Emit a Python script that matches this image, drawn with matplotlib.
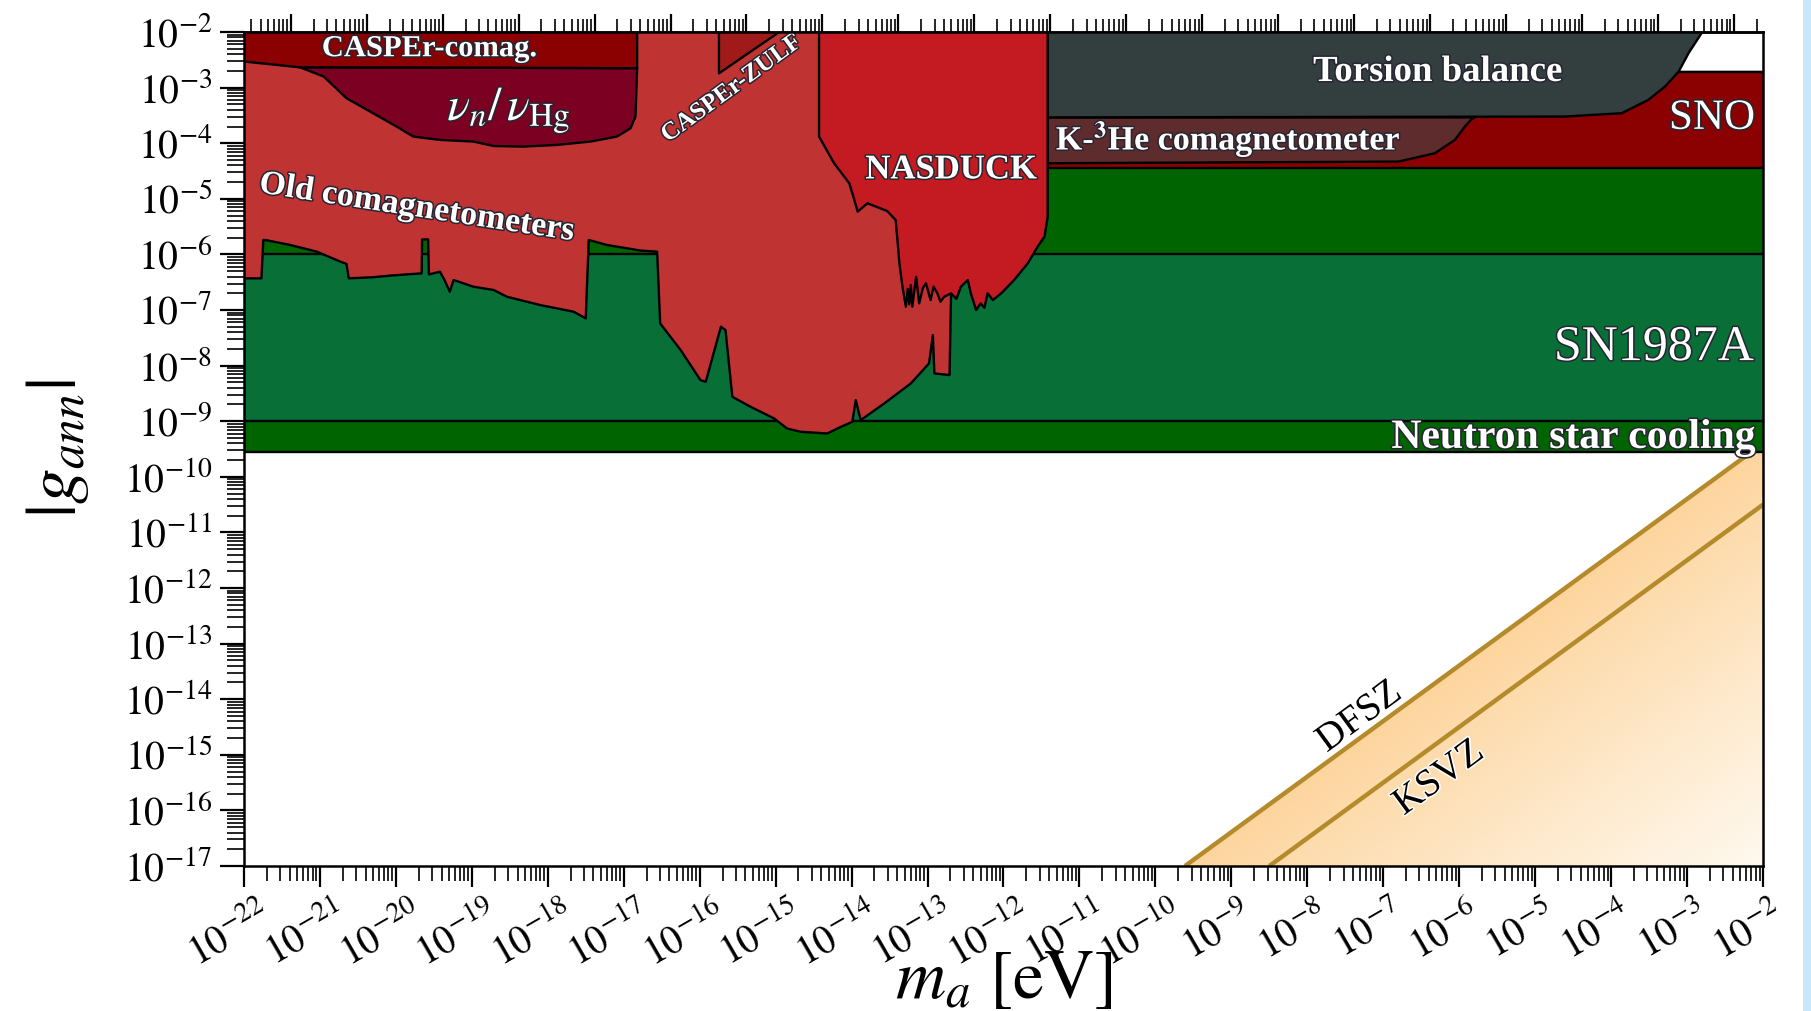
import numpy as np
import matplotlib
matplotlib.use("Agg")
import matplotlib.pyplot as plt
import matplotlib.patheffects as pe
import matplotlib.transforms as mtransforms
from matplotlib.patches import Polygon, Rectangle
from matplotlib.ticker import LogLocator, NullFormatter, FuncFormatter

plt.rcParams['font.family'] = ['Liberation Serif', 'DejaVu Serif']
plt.rcParams['mathtext.fontset'] = 'stix'

# plot range
m_min, m_max = 1e-22, 1e-2     # eV
g_min, g_max = 1e-17, 1e-2
EV_TO_HZ = 2.418e14            # top axis: frequency

# exclusion regions, stored as log10(m_a/eV) and log10|g_ann|
ns_logm = [-23, -1, -1, -23]
ns_logg = [-9.553, -9.553, -2.71, -2.71]

sn_logm = [-23, -1, -1, -23]
sn_logg = [-9.0, -9.0, -6.0, -6.0]

sno_logm = [-11.42, -1, -1, -11.42]
sno_logg = [-4.45, -4.45, -2.71, -2.71]

k3he_logm = [-11.42, -5.80, -5.84, -5.925, -6.057, -6.32, -6.80, -11.42]
k3he_logg = [-3.535, -3.535, -3.57, -3.70, -3.94, -4.18, -4.33, -4.36]

torsion_logm = [-11.42, -11.42, -4.61, -3.86, -3.51, -3.29, -3.11, -2.98, -2.80, -2.70]
torsion_logg = [-1.5, -3.535, -3.52, -3.46, -3.22, -2.98, -2.71, -2.38, -2.0, -1.5]

old_comag_logm = [-22.5, -21.77, -21.745, -21.72, -21.39, -21.04, -20.73, -20.65, -20.62,
                  -20.30, -20.07, -19.66, -19.655, -19.575, -19.565, -19.42, -19.36, -19.29,
                  -19.24, -18.98, -18.71, -18.54, -18.10, -17.66, -17.50, -17.46, -17.22,
                  -16.78, -16.56, -16.52, -16.47, -16.25, -15.99, -15.92, -15.72, -15.66,
                  -15.57, -15.33, -15.02, -14.85, -14.67, -14.32, -14.14, -13.99, -13.945,
                  -13.88, -13.57, -13.22, -12.98, -12.93, -12.91, -12.71, -12.69, -12.69, -22.5]
old_comag_logg = [-6.43, -6.43, -5.74, -5.74, -5.83, -5.95, -6.13, -6.17, -6.43,
                  -6.41, -6.38, -6.34, -5.73, -5.73, -6.36, -6.31, -6.46, -6.67,
                  -6.46, -6.58, -6.64, -6.76, -6.91, -7.03, -7.15, -5.74, -5.83,
                  -5.93, -5.95, -7.24, -7.33, -7.72, -8.26, -8.29, -7.30, -7.36,
                  -8.56, -8.74, -8.95, -9.13, -9.19, -9.22, -9.10, -9.01, -8.62,
                  -8.98, -8.68, -8.32, -7.96, -7.45, -8.14, -8.17, -6.70, -1.5, -1.5]

nu_hg_logm = [-21.26, -20.95, -20.65, -20.30, -19.99, -19.77, -19.42, -18.98, -18.71,
              -18.32, -17.88, -17.44, -17.09, -16.91, -16.845, -16.823]
nu_hg_logg = [-2.635, -2.80, -3.19, -3.46, -3.70, -3.88, -3.94, -3.97, -4.05,
              -4.06, -4.03, -3.97, -3.88, -3.73, -3.52, -2.65]

casper_comag_logm = [-22.5, -22.0, -21.26, -19.0, -16.823, -16.823, -22.5]
casper_comag_logg = [-2.53, -2.53, -2.635, -2.64, -2.65, -1.5, -1.5]

casper_zulf_logm = [-15.746, -15.746, -14.42]
casper_zulf_logg = [-1.5, -2.743, -1.5]

nasduck_logm = [-14.428, -14.428, -14.23, -14.03, -13.97, -13.92, -13.79, -13.53, -13.42, -13.40,
                -13.37, -13.33, -13.285, -13.26, -13.24, -13.22, -13.20, -13.15, -13.11, -13.06,
                -13.02, -12.96, -12.92, -12.87, -12.83, -12.78, -12.69, -12.62, -12.56, -12.47,
                -12.43, -12.36, -12.30, -12.25, -12.21, -12.14, -12.03,
                -11.86, -11.68, -11.55, -11.46, -11.418, -11.418]
nasduck_logg = [-1.5, -3.88, -4.36, -4.72, -4.99, -5.23, -5.08, -5.22, -5.38, -5.68,
                -6.16, -6.58, -6.94, -6.62, -6.90, -6.55, -6.94, -6.40, -6.88, -6.60,
                -6.52, -6.82, -6.58, -6.70, -6.85, -6.76, -6.70, -6.80, -6.58, -6.46,
                -6.70, -7.00, -6.88, -6.96, -6.70, -6.82, -6.70,
                -6.46, -6.16, -5.86, -5.68, -5.32, -1.5]

# QCD axion lines (endpoints)
dfsz_logm = [-9.61, -2.0]
dfsz_logg = [-17.0, -9.40]
ksvz_logm = [-8.50, -2.0]
ksvz_logg = [-17.0, -10.50]


def lin(v):
    return 10.0 ** np.asarray(v, dtype=float)


regions = [
    (ns_logm, ns_logg, '#006400', 3),
    (sn_logm, sn_logg, '#086f37', 4),
    (sno_logm, sno_logg, '#8b0000', 5),
    (k3he_logm, k3he_logg, '#5e2c2c', 6),
    (torsion_logm, torsion_logg, '#333e3e', 7),
    (old_comag_logm, old_comag_logg, '#c03333', 8),
    (nu_hg_logm, nu_hg_logg, '#7b0022', 9),
    (casper_comag_logm, casper_comag_logg, '#8b0000', 10),
    (casper_zulf_logm, casper_zulf_logg, '#a11a1a', 10),
    (nasduck_logm, nasduck_logg, '#c41a22', 11),
]

fig = plt.figure(figsize=(18.11, 10.11), dpi=100)
ax = fig.add_axes([0.1347, 0.1434, 0.8388, 0.8249])
ax.set_xscale('log')
ax.set_yscale('log')
ax.set_autoscale_on(False)
ax.set_xlim(m_min, m_max)
ax.set_ylim(g_min, g_max)

# QCD band with a soft gradient below the DFSZ line
lx0, lx1 = np.log10(m_min), np.log10(m_max)
ly0, ly1 = np.log10(g_min), np.log10(g_max)
XA, YA = np.meshgrid(np.linspace(0, 1, 700), np.linspace(0, 1, 450))
LM = lx0 + XA * (lx1 - lx0)
LG = ly0 + YA * (ly1 - ly0)
shift = dfsz_logm[0] - dfsz_logg[0]
t = np.clip((LM - LG - shift) / (lx1 - ly0 - shift), 0, 1) ** 0.9
c0 = np.array([253, 212, 156]) / 255
c1 = np.array([255, 249, 239]) / 255
img = c0 + (c1 - c0) * t[..., None]
band = Polygon([(lin(dfsz_logm[0]), lin(dfsz_logg[0])), (lin(dfsz_logm[1]), lin(dfsz_logg[1])),
                (m_max, g_min)], closed=True, transform=ax.transData)
im = ax.imshow(img, extent=(0, 1, 0, 1), transform=ax.transAxes, origin='lower',
               aspect='auto', interpolation='bilinear', zorder=1)
im.set_clip_path(band)

for lm, lg in [(dfsz_logm, dfsz_logg), (ksvz_logm, ksvz_logg)]:
    ax.plot(lin(lm), lin(lg), color='#b58a2a', lw=3.2, zorder=2, solid_capstyle='butt')

for lm, lg, col, z in regions:
    ax.fill(lin(lm), lin(lg), facecolor=col, edgecolor='black',
            lw=1.7, zorder=z, joinstyle='round')

ax.set_xlim(m_min, m_max)
ax.set_ylim(g_min, g_max)

# labels
white = dict(color='white', zorder=20,
             path_effects=[pe.withStroke(linewidth=2.2, foreground='#262633')])
dark = dict(color='black', zorder=20,
            path_effects=[pe.withStroke(linewidth=2.2, foreground='white')])
px_x = ax.get_position().width * fig.get_figwidth() / (lx1 - lx0)
px_y = ax.get_position().height * fig.get_figheight() / (ly1 - ly0)
line_angle = np.degrees(np.arctan2(px_y, px_x))

ax.text(lin(-19.56), lin(-2.30), 'CASPEr-comag.', fontsize=22, fontweight='bold',
        ha='center', va='center', **white)
ax.text(lin(-18.51), lin(-3.40), r'$\nu_n/\,\nu_{\rm Hg}$', fontsize=34,
        ha='center', va='center', **white)
ax.text(lin(-19.73), lin(-5.16), 'Old comagnetometers', fontsize=24.5, fontweight='bold',
        rotation=-8.7, ha='center', va='center', rotation_mode='anchor', **white)
ax.text(lin(-15.58), lin(-3.01), 'CASPEr-ZULF', fontsize=18, fontweight='bold',
        rotation=36, ha='center', va='center', rotation_mode='anchor', **white)
ax.text(lin(-12.686), lin(-4.48), 'NASDUCK', fontsize=25, fontweight='bold',
        ha='center', va='center', **white)
ax.text(lin(-6.285), lin(-2.71), 'Torsion balance', fontsize=26.5, fontweight='bold',
        ha='center', va='center', **white)
ax.text(lin(-11.31), lin(-3.92), r'K-$^{\mathbf{3}}$He comagnetometer', fontsize=24.5,
        fontweight='bold', ha='left', va='center', **white)
ax.text(lin(-2.106), lin(-3.556), 'SNO', fontsize=31, ha='right', va='center', **white)
ax.text(lin(-2.12), lin(-7.68), 'SN1987A', fontsize=36, ha='right', va='center', **white)
ax.text(lin(-2.106), lin(-9.30), 'Neutron star cooling', fontsize=30, fontweight='bold',
        ha='right', va='center', **white)
ax.text(lin(-7.313), lin(-14.32), 'DFSZ', fontsize=28, rotation=line_angle,
        ha='center', va='center', rotation_mode='anchor', **dark)
ax.text(lin(-6.265), lin(-15.42), 'KSVZ', fontsize=28, rotation=line_angle,
        ha='center', va='center', rotation_mode='anchor', **dark)

# ticks
decade_fmt = FuncFormatter(lambda v, p: r'$10^{%d}$' % round(np.log10(v)))
for axis in (ax.xaxis, ax.yaxis):
    axis.set_major_locator(LogLocator(base=10, numticks=100))
    axis.set_minor_locator(LogLocator(base=10, subs=np.arange(2, 10), numticks=100))
    axis.set_major_formatter(decade_fmt)
    axis.set_minor_formatter(NullFormatter())

ax.tick_params(axis='x', which='major', direction='out', length=15, width=1.6,
               top=False, labelsize=28.5, pad=7, labelrotation=30)
ax.tick_params(axis='x', which='minor', direction='out', length=11, width=1.2, top=False)
ax.tick_params(axis='y', which='major', direction='out', length=17, width=1.6,
               right=False, labelsize=28.5, pad=6)
ax.tick_params(axis='y', which='minor', direction='out', length=12, width=1.2, right=False)

# shift the slanted mass labels a little to the left of their ticks
shift_left = mtransforms.ScaledTranslation(-10 / 72, 0, fig.dpi_scale_trans)
for lab in ax.get_xticklabels():
    lab.set_transform(lab.get_transform() + shift_left)

secax = ax.secondary_xaxis('top', functions=(lambda m: m * EV_TO_HZ, lambda f: f / EV_TO_HZ))
secax.xaxis.set_major_locator(LogLocator(base=10, numticks=100))
secax.xaxis.set_minor_locator(LogLocator(base=10, subs=np.arange(2, 10), numticks=100))
secax.xaxis.set_major_formatter(NullFormatter())
secax.xaxis.set_minor_formatter(NullFormatter())
secax.tick_params(which='major', direction='out', length=13, width=1.6)
secax.tick_params(which='minor', direction='out', length=9.5, width=1.2)
secax.spines['top'].set_linewidth(1.8)

for s in ax.spines.values():
    s.set_linewidth(1.8)
    s.set_zorder(30)

ax.set_xlabel(r'$m_a\ [\mathrm{eV}]$', fontsize=50)
ax.xaxis.set_label_coords(0.5, -0.10)
ax.set_ylabel(r'$|g_{ann}|$', fontsize=51)
ax.yaxis.set_label_coords(-0.101, 0.5)

# light strip along the right edge
fig.add_artist(Rectangle((1803 / 1811, 0), 8 / 1811, 1, transform=fig.transFigure,
                         facecolor='#c9e7fb', edgecolor='none', zorder=-1))

fig.savefig('out.png', dpi=100)
